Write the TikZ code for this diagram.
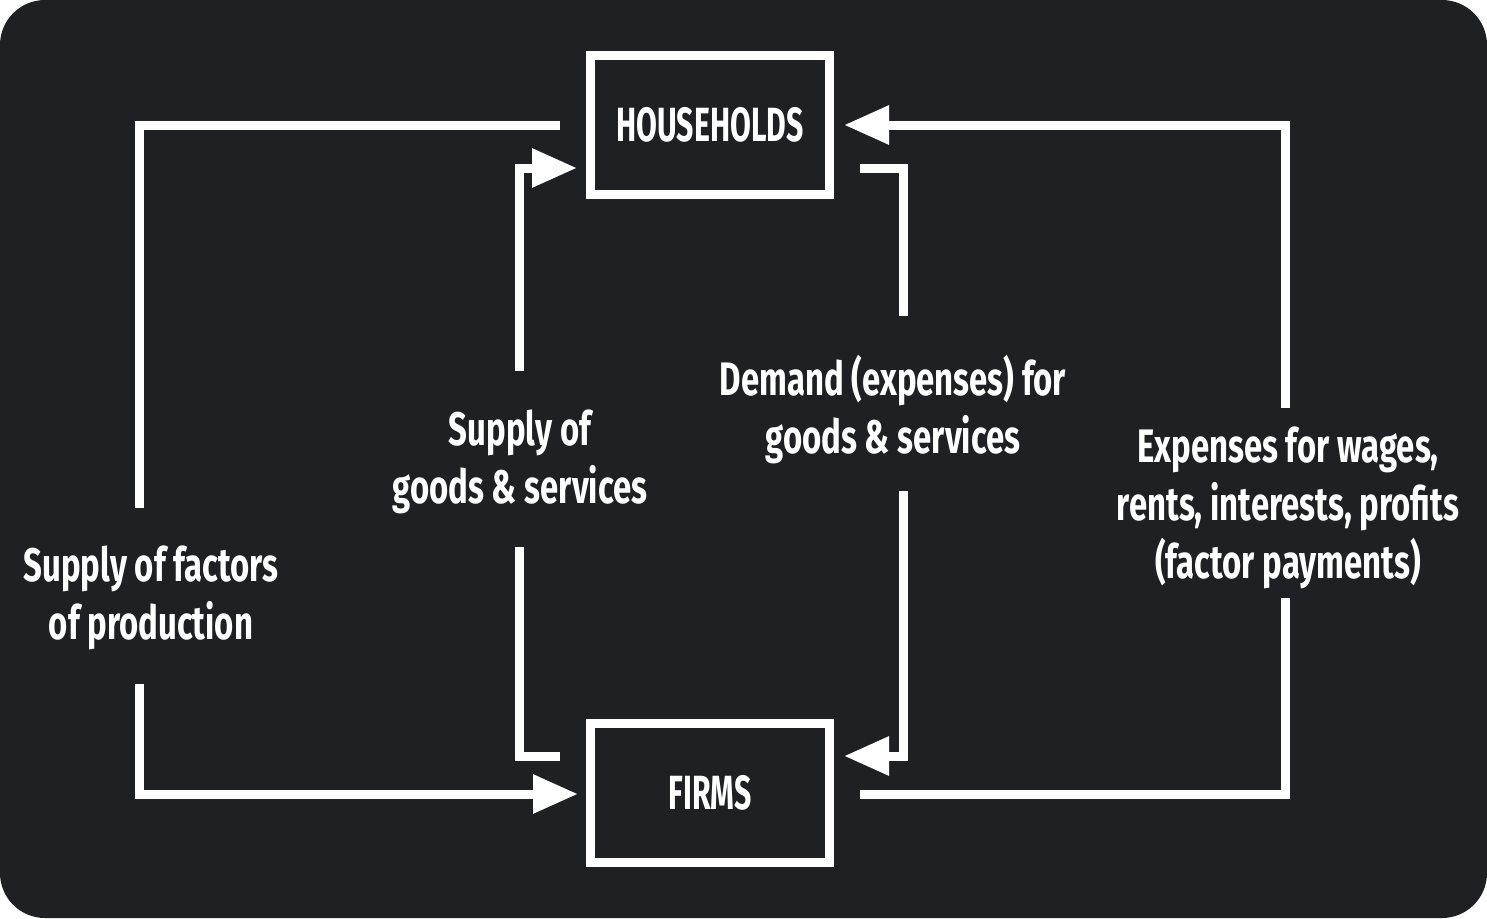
\documentclass[tikz,border=0pt]{standalone}
\usepackage{fontspec}
\setmainfont{Fira Sans}[FakeStretch=0.7]
\newfontfamily\boxfont{Fira Sans}[FakeStretch=0.63]
\usetikzlibrary{arrows.meta}
\definecolor{bg}{HTML}{1F2023}
\tikzset{
  flow/.style={draw=white, line width=9pt},
  arr/.style={flow, -{Triangle[length=45pt,width=37pt]}},
  box/.style={draw=white, line width=9pt, minimum width=239pt, minimum height=138.5pt, inner sep=0pt, text=white, font=\boxfont\fontsize{48}{56}\selectfont\bfseries},
  lbl/.style={text=white, align=center, inner sep=0pt, font=\fontsize{47}{58}\selectfont\bfseries}
}
\begin{document}
\begin{tikzpicture}[x=1pt,y=-1pt]
\useasboundingbox (0,0) rectangle (1487,918);
\fill[white] (0,0) rectangle (1487,918);
\fill[bg, rounded corners=45pt] (0,0) rectangle (1487,918);
\node[box] (H) at (710,124.75) {HOUSEHOLDS};
\node[box] (F) at (710,793) {FIRMS};
% labels
\node[lbl] (L1) at (151,598) {Supply of factors\\of production};
\node[lbl] (L2) at (520,462) {Supply of\\goods \& services};
\node[lbl] (L3) at (893,410) {Demand (expenses) for\\goods \& services};
\node[lbl] (L4) at (1288,508) {Expenses for wages,\\rents, interests, profits\\(factor payments)};
% coordinates
\coordinate (a1) at (560,125);
\coordinate (a2) at (139,508);
\coordinate (a3) at (139,684);
\coordinate (b1) at (519,371);
\coordinate (b2) at (519,547);
\coordinate (b3) at (560,756);
\coordinate (c1) at (860,168);
\coordinate (c2) at (903,316);
\coordinate (c3) at (903,491);
\coordinate (d1) at (1285,408);
\coordinate (d2) at (1285,598);
\coordinate (d3) at (860,794);
% left outer loop
\draw[flow] (a1) -| (a2);
\draw[arr] (a3) |- (578,794);
% supply of goods
\draw[arr] (b1) |- (577,168);
\draw[flow] (b2) |- (b3);
% demand
\draw[flow] (c1) -| (c2);
\draw[arr] (c3) |- (844,756);
% factor payments
\draw[arr] (d1) |- (844,125);
\draw[flow] (d3) -| (d2);
\end{tikzpicture}
\end{document}
